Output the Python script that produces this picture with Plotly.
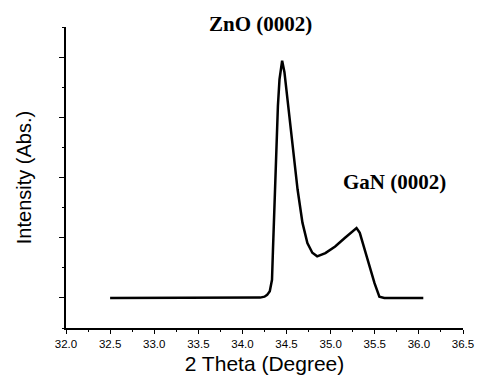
import plotly.graph_objects as go

two_theta = [32.5, 33.0, 33.5, 34.0, 34.1, 34.2, 34.25, 34.28, 34.31, 34.335, 34.346, 34.364, 34.383,
             34.402, 34.42, 34.45, 34.476, 34.513, 34.569, 34.625, 34.68, 34.736, 34.792, 34.847,
             34.94, 35.051, 35.163, 35.255, 35.293, 35.33, 35.385, 35.441, 35.497, 35.552, 35.608,
             35.8, 36.05]
intensity = [1.0, 1.0, 1.0, 1.0, 1.0, 1.005, 1.02, 1.05, 1.11, 1.3, 1.8, 2.63, 3.47,
             4.19, 4.63, 4.94, 4.75, 4.25, 3.47, 2.8, 2.25, 1.91, 1.75, 1.69,
             1.745, 1.855, 2.0, 2.105, 2.16, 2.08, 1.8, 1.52, 1.245, 1.02, 1.0,
             1.0, 1.0]

x_ticks = [32.0, 32.5, 33.0, 33.5, 34.0, 34.5, 35.0, 35.5, 36.0, 36.5]
x_labels = ["32.0", "32.5", "33.0", "33.5", "34.0", "34.5", "35.0", "35.5", "36.0", "36.5"]

fig = go.Figure()
fig.add_trace(go.Scatter(x=two_theta, y=intensity, mode="lines",
                         line=dict(color="black", width=2.5), showlegend=False))

fig.add_annotation(x=34.2, y=1.01, xref="x", yref="paper", yanchor="middle",
                   text="<b>ZnO (0002)</b>", showarrow=False,
                   font=dict(family="Liberation Serif", size=21, color="black"))
fig.add_annotation(x=35.72, y=2.92, xref="x", yref="y", text="<b>GaN (0002)</b>", showarrow=False,
                   font=dict(family="Liberation Serif", size=21, color="black"))

fig.update_layout(
    width=475, height=367,
    margin=dict(l=58, r=20, t=19, b=47),
    paper_bgcolor="white", plot_bgcolor="white",
    xaxis=dict(range=[32.0, 36.5], tickmode="array", tickvals=x_ticks, ticktext=x_labels,
               automargin=False, ticklabeloverflow="allow",
               showline=True, linecolor="black", linewidth=1.5, showgrid=False, zeroline=False,
               ticks="outside", ticklen=4, tickcolor="black", tickwidth=1,
               minor=dict(dtick=0.25, ticks="outside", ticklen=2, tickcolor="black"),
               tickfont=dict(family="Liberation Sans", size=11.5, color="black"),
               title=dict(text="2 Theta (Degree)", font=dict(family="Liberation Sans", size=21, color="black"),
                          standoff=13)),
    yaxis=dict(range=[0.5, 5.5], tickmode="array", tickvals=[1, 2, 3, 4, 5], showticklabels=False,
               automargin=False,
               showline=True, linecolor="black", linewidth=1.5, showgrid=False, zeroline=False,
               ticks="outside", ticklen=5, tickcolor="black", tickwidth=1,
               minor=dict(dtick=0.5, tick0=0.5, ticks="outside", ticklen=2, tickcolor="black"),
               title=dict(text="Intensity (Abs.)", font=dict(family="Liberation Sans", size=20, color="black"),
                          standoff=22)),
)

fig.write_html("out.html")
